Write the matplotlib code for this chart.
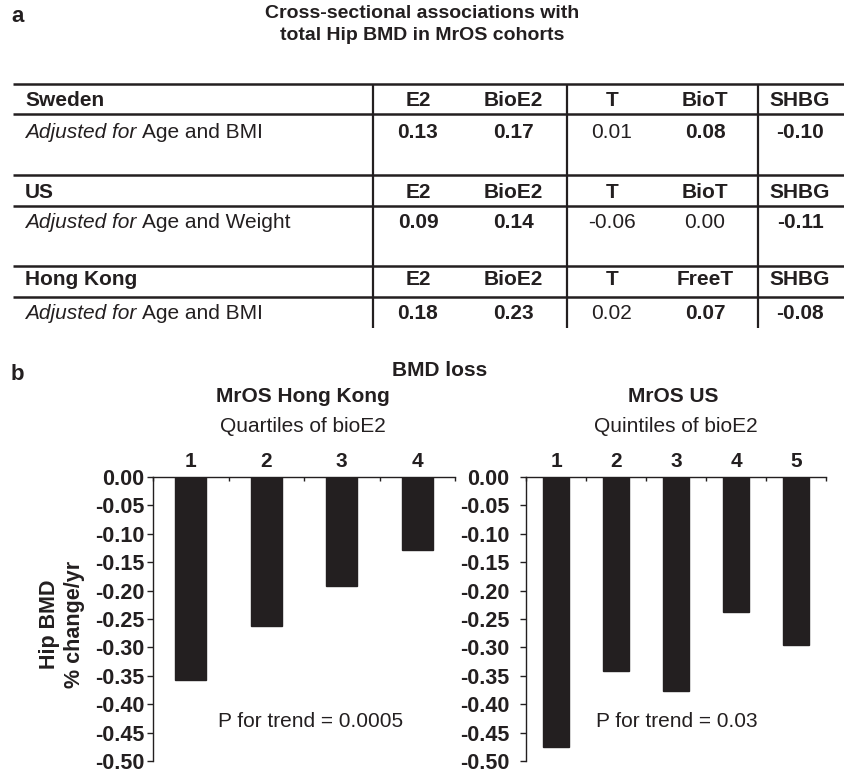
import matplotlib
matplotlib.use("Agg")
import matplotlib.pyplot as plt
from matplotlib.lines import Line2D

plt.rcParams['font.family'] = ['Liberation Sans', 'DejaVu Sans']

# ---------------- data ----------------
cohorts = ["Sweden", "US", "Hong Kong"]
adjustments = ["Age and BMI", "Age and Weight", "Age and BMI"]
col_headers = [["E2", "BioE2", "T", "BioT", "SHBG"],
               ["E2", "BioE2", "T", "BioT", "SHBG"],
               ["E2", "BioE2", "T", "FreeT", "SHBG"]]
assoc_values = [[0.13, 0.17, 0.01, 0.08, -0.10],
                [0.09, 0.14, -0.06, 0.00, -0.11],
                [0.18, 0.23, 0.02, 0.07, -0.08]]
assoc_bold = [[True, True, False, True, True],
              [True, True, False, False, True],
              [True, True, False, True, True]]

hk_quartiles = ["1", "2", "3", "4"]
hk_bmd_change = [-0.357, -0.263, -0.192, -0.128]
us_quintiles = ["1", "2", "3", "4", "5"]
us_bmd_change = [-0.476, -0.341, -0.377, -0.237, -0.296]
yticks = [0.00, -0.05, -0.10, -0.15, -0.20, -0.25, -0.30, -0.35, -0.40, -0.45, -0.50]

# ---------------- figure ----------------
W, H = 844, 773
fig = plt.figure(figsize=(W / 100, H / 100), dpi=100)
TC = '#231f20'
FS = 15

def fx(x):
    return x / W

def fy(y):
    return 1 - y / H

def hline(y, x0, x1, lw=1.8):
    fig.add_artist(Line2D([fx(x0), fx(x1)], [fy(y), fy(y)], color=TC, lw=lw,
                          transform=fig.transFigure, solid_capstyle='butt'))

def vline(x, y0, y1, lw=1.6):
    fig.add_artist(Line2D([fx(x), fx(x)], [fy(y0), fy(y1)], color=TC, lw=lw,
                          transform=fig.transFigure, solid_capstyle='butt'))

# panel labels / titles
fig.text(fx(11), fy(17), "a", fontsize=16, fontweight='bold', color=TC, ha='left', va='center')
fig.text(fx(422), fy(14), "Cross-sectional associations with", fontsize=14,
         fontweight='bold', color=TC, ha='center', va='center')
fig.text(fx(422), fy(35), "total Hip BMD in MrOS cohorts", fontsize=14,
         fontweight='bold', color=TC, ha='center', va='center')

# ---------------- table ----------------
tbl_left, tbl_right = 13, 844
hlines_y = [84, 114, 175, 206, 266, 297]
for y in hlines_y:
    hline(y, tbl_left, tbl_right)
for x in [373, 567, 758]:
    vline(x, 84, 328)

col_x = [418, 513, 612, 705, 800]
header_y = [101, 192, 280]
value_y = [133, 223, 313]
for i in range(3):
    fig.text(fx(25), fy(header_y[i]), cohorts[i], fontsize=FS, fontweight='bold',
             color=TC, ha='left', va='center')
    fig.text(fx(25), fy(value_y[i]), "Adjusted for", fontsize=FS, style='italic',
             color=TC, ha='left', va='center')
    for j in range(5):
        fig.text(fx(col_x[j]), fy(header_y[i]), col_headers[i][j], fontsize=FS,
                 fontweight='bold', color=TC, ha='center', va='center')
        fig.text(fx(col_x[j]), fy(value_y[i]), f"{assoc_values[i][j]:.2f}", fontsize=FS,
                 fontweight='bold' if assoc_bold[i][j] else 'normal', color=TC,
                 ha='center', va='center')

# place the non-italic part after the italic part using renderer extents
fig.canvas.draw()
renderer = fig.canvas.get_renderer()
for i in range(3):
    tmp = fig.text(fx(25), fy(value_y[i]), "Adjusted for ", fontsize=FS, style='italic')
    bb = tmp.get_window_extent(renderer)
    tmp.remove()
    fig.text(bb.x1 / W, fy(value_y[i]), adjustments[i], fontsize=FS, color=TC,
             ha='left', va='center')

# ---------------- panel b ----------------
fig.text(fx(11), fy(375), "b", fontsize=16, fontweight='bold', color=TC, ha='left', va='center')
fig.text(fx(440), fy(371), "BMD loss", fontsize=FS, fontweight='bold', color=TC,
         ha='center', va='center')

y_top, y_bot = 477, 761

def make_ax(x0, x1, cats, vals, width, ptext, ptext_x, pad_y):
    ax = fig.add_axes([fx(x0), fy(y_bot), fx(x1) - fx(x0), (y_bot - y_top) / H])
    pos = list(range(1, len(cats) + 1))
    ax.bar(pos, vals, width=width, color=TC, edgecolor=TC)
    ax.set_xlim(0.5, len(cats) + 0.5)
    ax.set_ylim(-0.5, 0.0)
    for s in ['right', 'bottom']:
        ax.spines[s].set_visible(False)
    for s in ['left', 'top']:
        ax.spines[s].set_linewidth(1.0)
        ax.spines[s].set_color(TC)
    ax.xaxis.set_ticks_position('top')
    ax.set_xticks(pos)
    ax.set_xticklabels(cats, fontsize=FS, fontweight='bold', color=TC)
    ax.set_xticks([p + 0.5 for p in range(len(cats) + 1)], minor=True)
    ax.tick_params(axis='x', which='major', length=0, pad=4)
    ax.tick_params(axis='x', which='minor', direction='in', length=3, width=1, color=TC)
    ax.set_yticks(yticks)
    ax.set_yticklabels([f"{v:.2f}".replace('-0.00', '0.00') for v in yticks],
                       fontsize=15.5, fontweight='bold', color=TC)
    ax.tick_params(axis='y', direction='out', length=4, width=1, color=TC, pad=pad_y)
    ax.text(ptext_x, -0.431, ptext, fontsize=FS, color=TC, ha='left', va='center',
            transform=ax.transData)
    return ax

ax1 = make_ax(153, 455, hk_quartiles, hk_bmd_change, 0.41, "P for trend = 0.0005", 1.36, 2)
ax2 = make_ax(526, 826, us_quintiles, us_bmd_change, 0.43, "P for trend = 0.03", 1.67, 8)

fig.text(fx(303), fy(397), "MrOS Hong Kong", fontsize=FS, fontweight='bold', color=TC,
         ha='center', va='center')
fig.text(fx(303), fy(427), "Quartiles of bioE2", fontsize=FS, color=TC,
         ha='center', va='center')
fig.text(fx(673), fy(397), "MrOS US", fontsize=FS, fontweight='bold', color=TC,
         ha='center', va='center')
fig.text(fx(676), fy(427), "Quintiles of bioE2", fontsize=FS, color=TC,
         ha='center', va='center')

fig.text(fx(62), fy(624), "Hip BMD\n% change/yr", fontsize=15.5, fontweight='bold', color=TC,
         ha='center', va='center', rotation=90, multialignment='center', linespacing=1.3)

fig.savefig("out.png", dpi=100)
